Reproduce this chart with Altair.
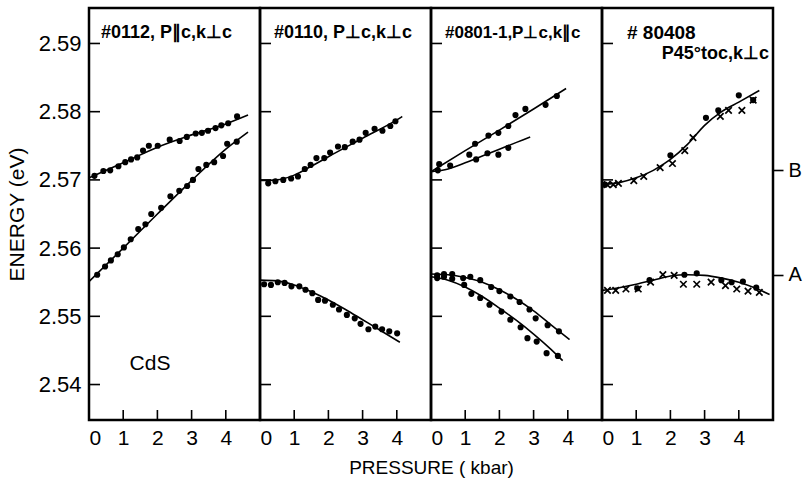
import altair as alt
import pandas as pd

# ---------------- scales / layout ----------------
Y_DOMAIN = [2.5348, 2.5952]
X_DOMAIN = [0, 5]
W = 171
H = 412

Y_TICKS = [2.54, 2.55, 2.56, 2.57, 2.58, 2.59]
X_TICKS = [0, 1, 2, 3, 4]
X_INNER_TICKS = [1, 2, 3, 4]

# ---------------- panel 1: #0112 ----------------
P1_UP_P = [0.16, 0.42, 0.62, 0.86, 1.06, 1.23, 1.41, 1.58, 1.75, 2.01, 2.36, 2.65, 2.86, 3.12, 3.30, 3.48, 3.70, 3.87, 4.07, 4.33]
P1_UP_E = [2.5706, 2.5713, 2.5714, 2.5720, 2.5726, 2.5730, 2.5733, 2.5743, 2.5750, 2.5750, 2.5759, 2.5757, 2.5763, 2.5768, 2.5769, 2.5772, 2.5776, 2.5780, 2.5783, 2.5793]
P1_LO_P = [0.24, 0.47, 0.64, 0.84, 1.02, 1.22, 1.44, 1.65, 1.82, 2.11, 2.38, 2.64, 2.87, 3.04, 3.20, 3.43, 3.66, 3.92, 4.04, 4.32]
P1_LO_E = [2.5561, 2.5573, 2.5582, 2.5591, 2.5601, 2.5613, 2.5628, 2.5635, 2.5650, 2.5659, 2.5676, 2.5684, 2.5691, 2.5700, 2.5716, 2.5722, 2.5726, 2.5735, 2.5753, 2.5756]
P1_FIT_UP_P = [0, 1, 2, 3, 4, 4.65]
P1_FIT_UP_E = [2.5703, 2.5725, 2.5748, 2.5766, 2.5782, 2.5795]
P1_FIT_LO_P = [0, 1, 2, 3, 4, 4.65]
P1_FIT_LO_E = [2.5551, 2.5600, 2.5650, 2.5699, 2.5745, 2.5770]

# ---------------- panel 2: #0110 ----------------
P2_UP_P = [0.24, 0.45, 0.68, 0.91, 1.11, 1.31, 1.48, 1.65, 1.88, 2.05, 2.28, 2.48, 2.71, 2.91, 3.09, 3.35, 3.58, 3.81, 3.96]
P2_UP_E = [2.5695, 2.5698, 2.5700, 2.5702, 2.5705, 2.5716, 2.5722, 2.5732, 2.5732, 2.5740, 2.5749, 2.5748, 2.5756, 2.5759, 2.5769, 2.5775, 2.5772, 2.5779, 2.5786]
P2_LO_P = [0.12, 0.32, 0.52, 0.72, 0.92, 1.15, 1.33, 1.53, 1.70, 1.90, 2.13, 2.31, 2.54, 2.77, 2.94, 3.17, 3.37, 3.57, 3.78, 4.01]
P2_LO_E = [2.5547, 2.5546, 2.5550, 2.5549, 2.5544, 2.5544, 2.5539, 2.5534, 2.5524, 2.5523, 2.5517, 2.5510, 2.5502, 2.5497, 2.5489, 2.5481, 2.5485, 2.5481, 2.5478, 2.5475]
P2_FIT_UP_P = [0, 0.5, 1, 1.5, 2, 3, 4, 4.16]
P2_FIT_UP_E = [2.5699, 2.5700, 2.5707, 2.5720, 2.5734, 2.5761, 2.5788, 2.5793]
P2_FIT_LO_P = [0, 0.5, 1, 1.5, 2, 2.5, 3, 3.5, 4.09]
P2_FIT_LO_E = [2.5553, 2.5552, 2.5546, 2.5536, 2.5524, 2.5510, 2.5495, 2.5480, 2.5462]

# ---------------- panel 3: #0801-1 ----------------
P3_B1_P = [0.24, 1.29, 1.68, 1.97, 2.26, 2.47, 2.76, 3.35, 3.68]
P3_B1_E = [2.5723, 2.5753, 2.5765, 2.5769, 2.5779, 2.5795, 2.5804, 2.5810, 2.5823]
P3_B2_P = [0.20, 0.56, 1.12, 1.32, 1.65, 1.97, 2.26]
P3_B2_E = [2.5714, 2.5721, 2.5737, 2.5730, 2.5739, 2.5737, 2.5747]
P3_A1_P = [0.18, 0.38, 0.62, 0.94, 1.15, 1.44, 1.76, 2.00, 2.32, 2.59, 2.88, 3.06, 3.41, 3.74]
P3_A1_E = [2.5560, 2.5562, 2.5562, 2.5556, 2.5558, 2.5553, 2.5543, 2.5537, 2.5529, 2.5521, 2.5510, 2.5497, 2.5487, 2.5478]
P3_A2_P = [0.18, 0.38, 0.62, 0.97, 1.18, 1.44, 1.71, 2.06, 2.32, 2.62, 2.82, 3.09, 3.38, 3.71]
P3_A2_E = [2.5556, 2.5558, 2.5555, 2.5546, 2.5533, 2.5527, 2.5517, 2.5507, 2.5495, 2.5484, 2.5468, 2.5463, 2.5446, 2.5442]
P3_FIT_B1_P = [0, 1, 2, 3, 3.95]
P3_FIT_B1_E = [2.5712, 2.5743, 2.5773, 2.5804, 2.5834]
P3_FIT_B2_P = [0, 0.5, 1, 1.5, 2, 2.5, 2.9]
P3_FIT_B2_E = [2.5712, 2.5716, 2.5725, 2.5735, 2.5745, 2.5755, 2.5763]
P3_FIT_A1_P = [0, 0.5, 1, 1.5, 2, 2.5, 3, 3.5, 4.05]
P3_FIT_A1_E = [2.5562, 2.5561, 2.5557, 2.5550, 2.5539, 2.5525, 2.5508, 2.5488, 2.5466]
P3_FIT_A2_P = [0, 0.5, 1, 1.5, 2, 2.5, 3, 3.5, 3.85]
P3_FIT_A2_E = [2.5558, 2.5553, 2.5543, 2.5529, 2.5512, 2.5494, 2.5474, 2.5452, 2.5435]

# ---------------- panel 4: #80408 ----------------
P4_BX_P = [0.15, 0.33, 0.48, 0.93, 1.22, 1.70, 2.06, 2.42, 2.66, 3.46, 3.70, 4.09, 4.42]
P4_BX_E = [2.5693, 2.5693, 2.5695, 2.5699, 2.5705, 2.5718, 2.5724, 2.5743, 2.5762, 2.5793, 2.5802, 2.5802, 2.5817]
P4_BD_P = [0.09, 2.00, 3.04, 3.40, 4.00, 4.42]
P4_BD_E = [2.5693, 2.5736, 2.5791, 2.5802, 2.5824, 2.5817]
P4_AX_P = [0.16, 0.40, 0.70, 1.06, 1.42, 1.78, 2.11, 2.38, 2.77, 3.19, 3.61, 3.94, 4.27, 4.60]
P4_AX_E = [2.5538, 2.5538, 2.5540, 2.5540, 2.5550, 2.5561, 2.5560, 2.5547, 2.5547, 2.5550, 2.5545, 2.5540, 2.5537, 2.5535]
P4_AD_P = [1.03, 1.39, 2.41, 2.77, 3.49, 3.79, 4.12, 4.51]
P4_AD_E = [2.5541, 2.5553, 2.5561, 2.5563, 2.5553, 2.5550, 2.5551, 2.5542]
P4_FIT_B_P = [0, 0.5, 1, 1.5, 2, 2.5, 3, 3.5, 4, 4.6]
P4_FIT_B_E = [2.5693, 2.5696, 2.5703, 2.5714, 2.5730, 2.5752, 2.5780, 2.5800, 2.5814, 2.5831]
P4_FIT_A_P = [0, 0.5, 1, 1.5, 2, 2.5, 3, 3.5, 4, 4.5, 4.9]
P4_FIT_A_E = [2.5538, 2.5542, 2.5547, 2.5553, 2.5559, 2.5561, 2.5560, 2.5556, 2.5550, 2.5541, 2.5532]

EXCITON_E = [2.5561, 2.5714]
EXCITON_LABELS = ["A", "B"]

PANEL_TITLES = ["#0112, P\u2225c,k\u22a5c", "#0110, P\u22a5c,k\u22a5c", "#0801-1,P\u22a5c,k\u2225c", "# 80408"]
PANEL4_SUBTITLE = "P45\u00b0toc,k\u22a5c"
SAMPLE_LABEL = "CdS"

FONT = "Liberation Sans"
XSCALE = alt.Scale(domain=X_DOMAIN, nice=False, zero=False)
YSCALE = alt.Scale(domain=Y_DOMAIN, nice=False, zero=False)


def frame(ps, es, series):
    return pd.DataFrame({"P": ps, "E": es, "s": series})


def build_panel(dots, crosses, fits, yaxis, xaxis, extra_text):
    def X():
        return alt.X("P:Q", scale=XSCALE, axis=xaxis)

    def Y():
        return alt.Y("E:Q", scale=YSCALE, axis=yaxis)

    layers = []
    fit_df = pd.concat([frame(p, e, f"fit{i}") for i, (p, e) in enumerate(fits)])
    layers.append(
        alt.Chart(fit_df).mark_line(color="black", strokeWidth=1.6, interpolate="monotone")
        .encode(x=X(), y=Y(), detail="s:N")
    )
    if dots:
        dot_df = pd.concat([frame(p, e, f"d{i}") for i, (p, e) in enumerate(dots)])
        layers.append(
            alt.Chart(dot_df).mark_point(shape="circle", filled=True, color="black", size=38, opacity=1)
            .encode(x=X(), y=Y())
        )
    if crosses:
        x_df = pd.concat([frame(p, e, f"x{i}") for i, (p, e) in enumerate(crosses)])
        layers.append(
            alt.Chart(x_df).mark_point(shape="M-1,-1L1,1M-1,1L1,-1", filled=False, color="black",
                                       strokeWidth=1.7, size=42, opacity=1)
            .encode(x=X(), y=Y())
        )
    ytick_df = pd.DataFrame({"E": Y_TICKS})
    layers.append(
        alt.Chart(ytick_df).mark_rule(color="black", strokeWidth=1.6)
        .encode(y=Y(), x=alt.value(0), x2=alt.value(11))
    )
    xtick_df = pd.DataFrame({"P": X_INNER_TICKS})
    layers.append(
        alt.Chart(xtick_df).mark_rule(color="black", strokeWidth=1.6)
        .encode(x=X(), y=alt.value(H), y2=alt.value(H - 10))
    )
    layers.extend(extra_text)
    return alt.layer(*layers).properties(width=W, height=H)


def title_text(text, x, y, align="left", size=18):
    return alt.Chart(pd.DataFrame({"t": [text]})).mark_text(
        font=FONT, fontSize=size, fontWeight="bold", align=align, baseline="middle", color="black"
    ).encode(text="t:N", x=alt.value(x), y=alt.value(y))


x_axis_plain = alt.Axis(values=X_TICKS, ticks=False, domain=False, grid=False, labelPadding=7,
                        labelFontSize=21, labelFont=FONT, labelColor="black", title=None, format="d")
x_axis_title = alt.Axis(values=X_TICKS, ticks=False, domain=False, grid=False, labelPadding=7,
                        labelFontSize=21, labelFont=FONT, labelColor="black", format="d",
                        title="PRESSURE ( kbar)", titleFont=FONT, titleFontSize=19,
                        titleFontWeight="normal", titleColor="black", titleX=W, titleY=53,
                        titleBaseline="alphabetic", titleAlign="center")
y_axis_left = alt.Axis(values=Y_TICKS, ticks=False, domain=False, grid=False, format=".2f",
                       labelPadding=8, labelFontSize=22, labelFont=FONT, labelColor="black",
                       title="ENERGY (eV)", titleFont=FONT, titleFontSize=21, titleFontWeight="normal",
                       titleColor="black", titlePadding=11)
y_axis_right = alt.Axis(orient="right", values=EXCITON_E, ticks=True, tickSize=10, tickWidth=1.6,
                        tickColor="black", domain=False, grid=False, labelPadding=5, labelFontSize=20,
                        labelFont=FONT, labelColor="black", title=None,
                        labelExpr="datum.value > 2.565 ? '%s' : '%s'" % (EXCITON_LABELS[1], EXCITON_LABELS[0]))

cds = alt.Chart(pd.DataFrame({"t": [SAMPLE_LABEL]})).mark_text(
    font=FONT, fontSize=21, align="center", baseline="middle", color="black"
).encode(text="t:N", x=alt.value(61), y=alt.value(356))

panel1 = build_panel(
    dots=[(P1_UP_P, P1_UP_E), (P1_LO_P, P1_LO_E)], crosses=[],
    fits=[(P1_FIT_UP_P, P1_FIT_UP_E), (P1_FIT_LO_P, P1_FIT_LO_E)],
    yaxis=y_axis_left, xaxis=x_axis_plain,
    extra_text=[title_text(PANEL_TITLES[0], 12, 25), cds],
)
panel2 = build_panel(
    dots=[(P2_UP_P, P2_UP_E), (P2_LO_P, P2_LO_E)], crosses=[],
    fits=[(P2_FIT_UP_P, P2_FIT_UP_E), (P2_FIT_LO_P, P2_FIT_LO_E)],
    yaxis=None, xaxis=x_axis_title,
    extra_text=[title_text(PANEL_TITLES[1], 14, 25)],
)
panel3 = build_panel(
    dots=[(P3_B1_P, P3_B1_E), (P3_B2_P, P3_B2_E), (P3_A1_P, P3_A1_E), (P3_A2_P, P3_A2_E)], crosses=[],
    fits=[(P3_FIT_B1_P, P3_FIT_B1_E), (P3_FIT_B2_P, P3_FIT_B2_E),
          (P3_FIT_A1_P, P3_FIT_A1_E), (P3_FIT_A2_P, P3_FIT_A2_E)],
    yaxis=None, xaxis=x_axis_plain,
    extra_text=[title_text(PANEL_TITLES[2], 14, 25, size=17)],
)
panel4 = build_panel(
    dots=[(P4_BD_P, P4_BD_E), (P4_AD_P, P4_AD_E)],
    crosses=[(P4_BX_P, P4_BX_E), (P4_AX_P, P4_AX_E)],
    fits=[(P4_FIT_B_P, P4_FIT_B_E), (P4_FIT_A_P, P4_FIT_A_E)],
    yaxis=y_axis_right, xaxis=x_axis_plain,
    extra_text=[title_text(PANEL_TITLES[3], 25, 25, size=19),
                title_text(PANEL4_SUBTITLE, 167, 46, align="right")],
)

chart = (
    alt.hconcat(panel1, panel2, panel3, panel4, spacing=0, bounds="flush")
    .properties(padding={"left": 4, "top": 6, "right": 0, "bottom": 0}, background="white")
    .configure_view(stroke="black", strokeWidth=2.5)
)

chart.save("out.html", embed_options={"renderer": "svg", "actions": False})
